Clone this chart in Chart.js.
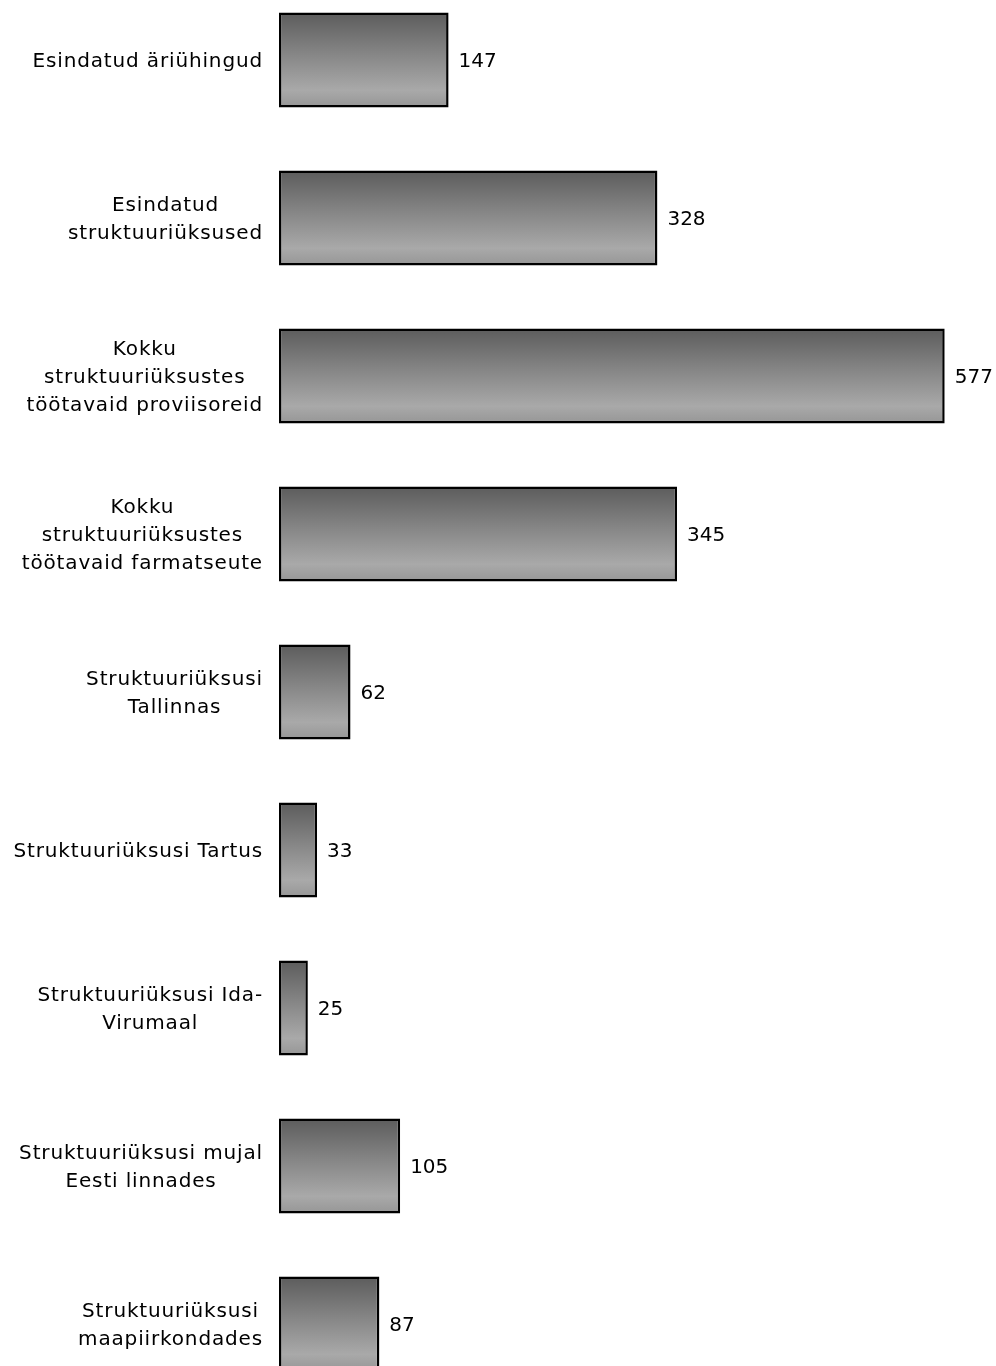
<!DOCTYPE html>
<html>
<head>
<meta charset="utf-8">
<script src="https://cdn.jsdelivr.net/npm/chart.js@4"></script>
<style>
  html, body { margin: 0; padding: 0; background: #fff; overflow: hidden; }
  #wrap { position: absolute; left: 0; top: -19px; width: 996px; height: 1422px; }
</style>
</head>
<body>
<div id="wrap"><canvas id="chart"></canvas></div>
<script>
const categories = [
  ["Esindatud äriühingud"],
  ["Esindatud", "struktuuriüksused"],
  ["Kokku", "struktuuriüksustes", "töötavaid proviisoreid"],
  ["Kokku", "struktuuriüksustes", "töötavaid farmatseute"],
  ["Struktuuriüksusi", "Tallinnas"],
  ["Struktuuriüksusi Tartus"],
  ["Struktuuriüksusi Ida-", "Virumaal"],
  ["Struktuuriüksusi mujal", "Eesti linnades"],
  ["Struktuuriüksusi", "maapiirkondades"]
];
const values = [147, 328, 577, 345, 62, 33, 25, 105, 87];

const FONT = '20px "DejaVu Sans", Verdana, sans-serif';
const BAR_PCT = 0.60;

function barGradient(context) {
  const chart = context.chart;
  const y = chart.scales.y;
  if (!chart.chartArea || !y) return '#888';
  const band = y.getPixelForValue(1) - y.getPixelForValue(0);
  const center = y.getPixelForValue(context.dataIndex);
  const half = band * BAR_PCT / 2;
  const g = chart.ctx.createLinearGradient(0, center - half, 0, center + half);
  g.addColorStop(0, '#5c5c5c');
  g.addColorStop(0.45, '#878787');
  g.addColorStop(0.82, '#a9a9a9');
  g.addColorStop(1, '#969696');
  return g;
}

// category labels: block right-aligned, lines centered in the block
const categoryLabels = {
  id: 'categoryLabels',
  afterDraw(chart) {
    const ctx = chart.ctx;
    const y = chart.scales.y;
    const right = chart.chartArea.left - 16;
    const lineH = 28;
    ctx.save();
    ctx.font = FONT;
    ctx.letterSpacing = '0.85px';
    ctx.fillStyle = '#000';
    ctx.textAlign = 'center';
    ctx.textBaseline = 'middle';
    categories.forEach((lines, i) => {
      const maxW = Math.max(...lines.map(l => ctx.measureText(l).width));
      const cx = right - maxW / 2;
      const cy = y.getPixelForValue(i) + 2;
      const start = cy - (lines.length - 1) * lineH / 2;
      lines.forEach((l, j) => ctx.fillText(l, cx, start + j * lineH));
    });
    ctx.restore();
  }
};

const valueLabels = {
  id: 'valueLabels',
  afterDatasetsDraw(chart) {
    const ctx = chart.ctx;
    const meta = chart.getDatasetMeta(0);
    ctx.save();
    ctx.font = FONT;
    ctx.fillStyle = '#000';
    ctx.textAlign = 'left';
    ctx.textBaseline = 'middle';
    meta.data.forEach((el, i) => {
      ctx.fillText(String(values[i]), el.x + 10, el.y + 2);
    });
    ctx.restore();
  }
};

new Chart(document.getElementById('chart'), {
  type: 'bar',
  data: {
    labels: categories,
    datasets: [{
      data: values,
      backgroundColor: barGradient,
      borderColor: '#000',
      borderWidth: 2.5,
      borderSkipped: false,
      categoryPercentage: 1,
      barPercentage: BAR_PCT
    }]
  },
  options: {
    indexAxis: 'y',
    responsive: true,
    maintainAspectRatio: false,
    animation: false,
    layout: { padding: { left: 279, right: 4, top: 0, bottom: 0 } },
    plugins: { legend: { display: false }, tooltip: { enabled: false } },
    scales: {
      x: { display: false, min: 0, max: 618 },
      y: { display: false, offset: true }
    }
  },
  plugins: [categoryLabels, valueLabels]
});
</script>
</body>
</html>
